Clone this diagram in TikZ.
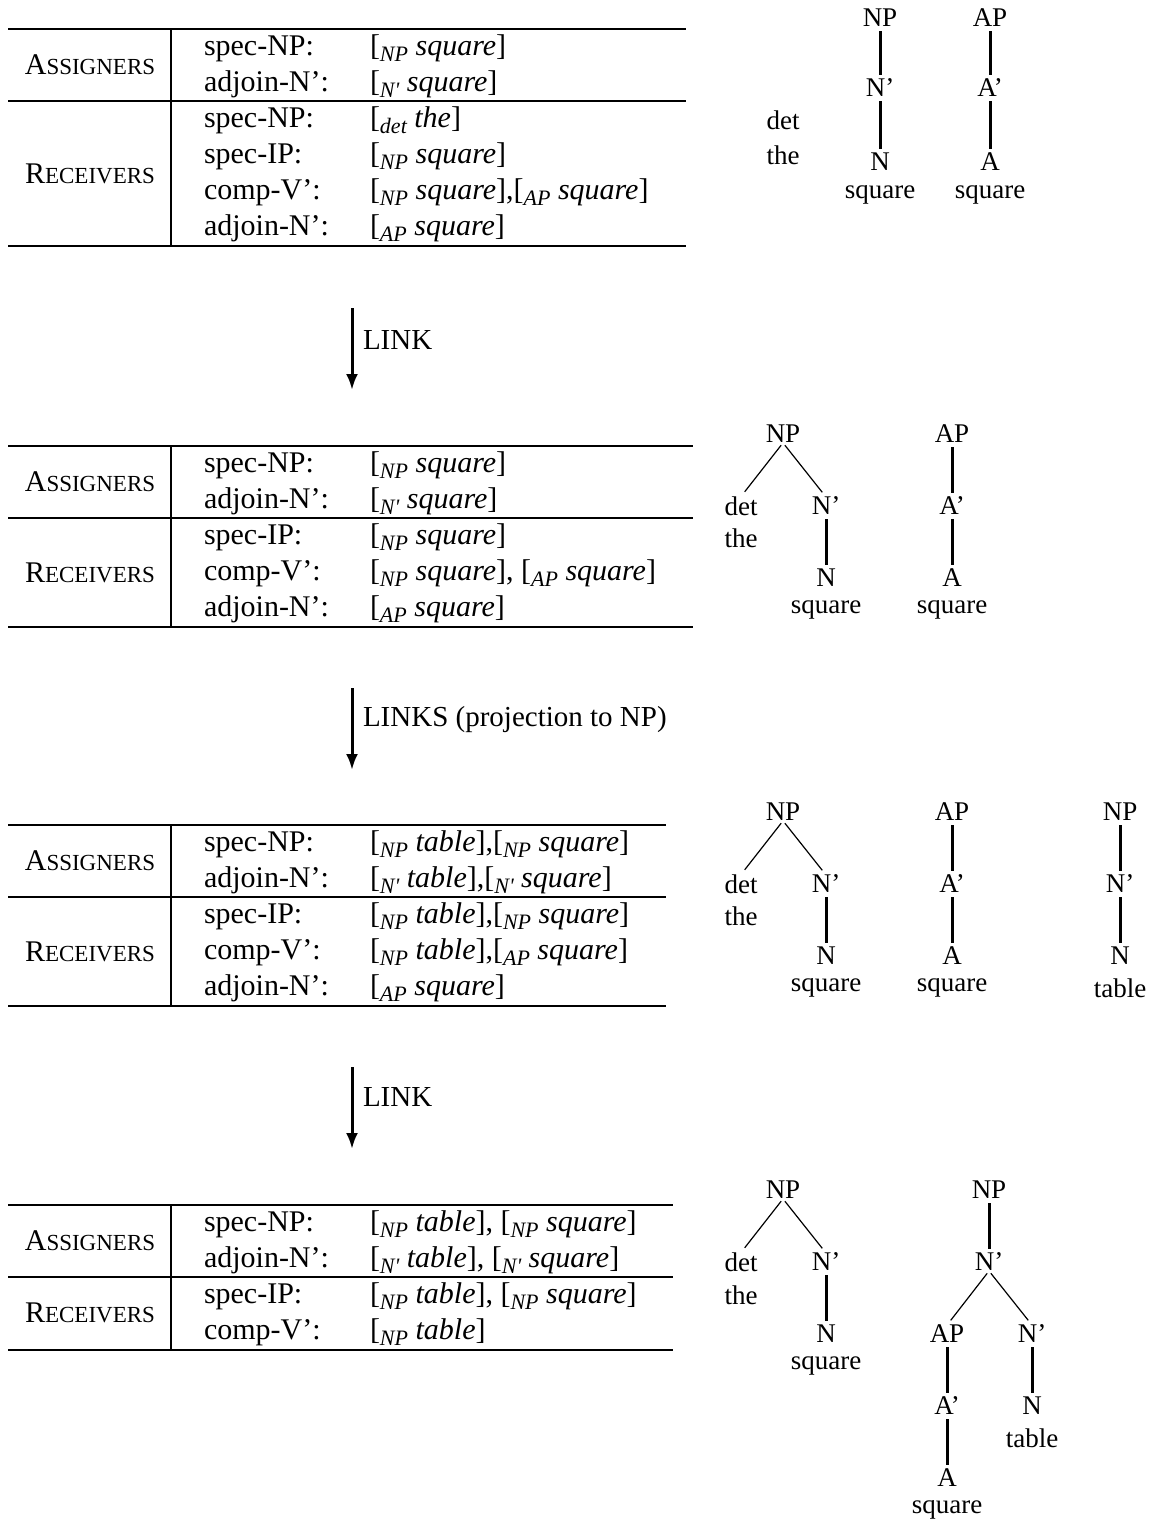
\documentclass[tikz,border=0pt]{standalone}
\usepackage{fontspec}
\setmainfont{Liberation Serif}
\usetikzlibrary{arrows.meta}
\newcommand\sbs[1]{\raisebox{-0.22em}{\fontsize{22}{22}\selectfont\itshape #1}}
\newcommand\smc[2]{#1{\fontsize{23}{23}\selectfont #2}}
\newcommand\nbr{N\textquotesingle}
\begin{document}
\begin{tikzpicture}[x=1pt,y=-1pt,
  every node/.style={font=\fontsize{30}{36}\selectfont, inner sep=0pt, outer sep=0pt},
  lab/.style={anchor=base west},
  cat/.style={anchor=center, font=\fontsize{27}{32}\selectfont},
  tlab/.style={anchor=center},
  arrlab/.style={anchor=west, font=\fontsize{29}{35}\selectfont},
  hrule/.style={line width=2.6pt},
  vrule/.style={line width=2pt},
  vl/.style={line width=3pt, shorten <=4.5pt, shorten >=4.5pt},
  dl/.style={line width=1.2pt, shorten <=3pt, shorten >=6pt},
  flow/.style={line width=3pt, -{Latex[length=16pt,width=12pt]}}]
\useasboundingbox (0,0) rectangle (1155,1523);

% ---------------- Table 1 ----------------
\draw[hrule] (8,29) -- (686,29);
\draw[hrule] (8,101) -- (686,101);
\draw[hrule] (8,246) -- (686,246);
\draw[vrule] (171,29) -- (171,246);
\node[tlab] (t1A) at (90,65) {\smc{A}{SSIGNERS}};
\node[tlab] (t1R) at (90,173.5) {\smc{R}{ECEIVERS}};
\node[lab] (t1a1) at (204,55) {spec-NP:};
\node[lab] (t1b1) at (370,55) {[\sbs{NP} \textit{square}]};
\node[lab] (t1a2) at (204,91) {adjoin-N':};
\node[lab] (t1b2) at (370,91) {[\sbs{\nbr} \textit{square}]};
\node[lab] (t1a3) at (204,127) {spec-NP:};
\node[lab] (t1b3) at (370,127) {[\sbs{det} \textit{the}]};
\node[lab] (t1a4) at (204,163) {spec-IP:};
\node[lab] (t1b4) at (370,163) {[\sbs{NP} \textit{square}]};
\node[lab] (t1a5) at (204,199) {comp-V':};
\node[lab] (t1b5) at (370,199) {[\sbs{NP} \textit{square}],[\sbs{AP} \textit{square}]};
\node[lab] (t1a6) at (204,235) {adjoin-N':};
\node[lab] (t1b6) at (370,235) {[\sbs{AP} \textit{square}]};

% ---------------- Table 2 ----------------
\draw[hrule] (8,446) -- (693,446);
\draw[hrule] (8,518) -- (693,518);
\draw[hrule] (8,627) -- (693,627);
\draw[vrule] (171,446) -- (171,627);
\node[tlab] (t2A) at (90,482) {\smc{A}{SSIGNERS}};
\node[tlab] (t2R) at (90,572.5) {\smc{R}{ECEIVERS}};
\node[lab] (t2a1) at (204,472) {spec-NP:};
\node[lab] (t2b1) at (370,472) {[\sbs{NP} \textit{square}]};
\node[lab] (t2a2) at (204,508) {adjoin-N':};
\node[lab] (t2b2) at (370,508) {[\sbs{\nbr} \textit{square}]};
\node[lab] (t2a3) at (204,544) {spec-IP:};
\node[lab] (t2b3) at (370,544) {[\sbs{NP} \textit{square}]};
\node[lab] (t2a4) at (204,580) {comp-V':};
\node[lab] (t2b4) at (370,580) {[\sbs{NP} \textit{square}], [\sbs{AP} \textit{square}]};
\node[lab] (t2a5) at (204,616) {adjoin-N':};
\node[lab] (t2b5) at (370,616) {[\sbs{AP} \textit{square}]};

% ---------------- Table 3 ----------------
\draw[hrule] (8,825) -- (666,825);
\draw[hrule] (8,897) -- (666,897);
\draw[hrule] (8,1006) -- (666,1006);
\draw[vrule] (171,825) -- (171,1006);
\node[tlab] (t3A) at (90,861) {\smc{A}{SSIGNERS}};
\node[tlab] (t3R) at (90,951.5) {\smc{R}{ECEIVERS}};
\node[lab] (t3a1) at (204,851) {spec-NP:};
\node[lab] (t3b1) at (370,851) {[\sbs{NP} \textit{table}],[\sbs{NP} \textit{square}]};
\node[lab] (t3a2) at (204,887) {adjoin-N':};
\node[lab] (t3b2) at (370,887) {[\sbs{\nbr} \textit{table}],[\sbs{\nbr} \textit{square}]};
\node[lab] (t3a3) at (204,923) {spec-IP:};
\node[lab] (t3b3) at (370,923) {[\sbs{NP} \textit{table}],[\sbs{NP} \textit{square}]};
\node[lab] (t3a4) at (204,959) {comp-V':};
\node[lab] (t3b4) at (370,959) {[\sbs{NP} \textit{table}],[\sbs{AP} \textit{square}]};
\node[lab] (t3a5) at (204,995) {adjoin-N':};
\node[lab] (t3b5) at (370,995) {[\sbs{AP} \textit{square}]};

% ---------------- Table 4 ----------------
\draw[hrule] (8,1205) -- (673,1205);
\draw[hrule] (8,1277) -- (673,1277);
\draw[hrule] (8,1350) -- (673,1350);
\draw[vrule] (171,1205) -- (171,1350);
\node[tlab] (t4A) at (90,1241) {\smc{A}{SSIGNERS}};
\node[tlab] (t4R) at (90,1313) {\smc{R}{ECEIVERS}};
\node[lab] (t4a1) at (204,1231) {spec-NP:};
\node[lab] (t4b1) at (370,1231) {[\sbs{NP} \textit{table}], [\sbs{NP} \textit{square}]};
\node[lab] (t4a2) at (204,1267) {adjoin-N':};
\node[lab] (t4b2) at (370,1267) {[\sbs{\nbr} \textit{table}], [\sbs{\nbr} \textit{square}]};
\node[lab] (t4a3) at (204,1303) {spec-IP:};
\node[lab] (t4b3) at (370,1303) {[\sbs{NP} \textit{table}], [\sbs{NP} \textit{square}]};
\node[lab] (t4a4) at (204,1339) {comp-V':};
\node[lab] (t4b4) at (370,1339) {[\sbs{NP} \textit{table}]};

% ---------------- Arrows ----------------
\coordinate (a1s) at (352,308); \coordinate (a1e) at (352,390);
\draw[flow] (a1s) -- (a1e);
\node[arrlab] (a1l) at (363,340) {LINK};
\coordinate (a2s) at (352,688); \coordinate (a2e) at (352,770);
\draw[flow] (a2s) -- (a2e);
\node[arrlab] (a2l) at (363,720) {LINKS (projection to NP)};
\coordinate (a3s) at (352,1067); \coordinate (a3e) at (352,1149);
\draw[flow] (a3s) -- (a3e);
\node[arrlab] (a3l) at (363,1097) {LINK};

% ---------------- Trees set 1 ----------------
\node[cat] (s1np) at (880,18) {NP};
\node[cat] (s1nb) at (880,88) {N'};
\node[cat] (s1n) at (880,162) {N};
\node[cat] (s1sq) at (880,195) {square};
\node[cat] (s1ap) at (990,18) {AP};
\node[cat] (s1ab) at (990,88) {A'};
\node[cat] (s1a) at (990,162) {A};
\node[cat] (s1asq) at (990,195) {square};
\node[cat] (s1det) at (783,120) {det};
\node[cat] (s1the) at (783,155) {the};
\draw[vl] (s1np) -- (s1nb);
\draw[vl] (s1nb) -- (s1n);
\draw[vl] (s1ap) -- (s1ab);
\draw[vl] (s1ab) -- (s1a);

% ---------------- Trees set 2 ----------------
\node[cat] (s2np) at (783,434) {NP};
\node[cat] (s2det) at (741,506) {det};
\node[cat] (s2the) at (741,538) {the};
\node[cat] (s2nb) at (826,506) {N'};
\node[cat] (s2n) at (826,578) {N};
\node[cat] (s2sq) at (826,610) {square};
\node[cat] (s2ap) at (952,434) {AP};
\node[cat] (s2ab) at (952,506) {A'};
\node[cat] (s2a) at (952,578) {A};
\node[cat] (s2asq) at (952,610) {square};
\draw[dl] (s2np.south) -- (s2det.north);
\draw[dl] (s2np.south) -- (s2nb.north);
\draw[vl] (s2nb) -- (s2n);
\draw[vl] (s2ap) -- (s2ab);
\draw[vl] (s2ab) -- (s2a);

% ---------------- Trees set 3 ----------------
\node[cat] (s3np) at (783,812) {NP};
\node[cat] (s3det) at (741,884) {det};
\node[cat] (s3the) at (741,916) {the};
\node[cat] (s3nb) at (826,884) {N'};
\node[cat] (s3n) at (826,956) {N};
\node[cat] (s3sq) at (826,988) {square};
\node[cat] (s3ap) at (952,812) {AP};
\node[cat] (s3ab) at (952,884) {A'};
\node[cat] (s3a) at (952,956) {A};
\node[cat] (s3asq) at (952,988) {square};
\node[cat] (s3np2) at (1120,812) {NP};
\node[cat] (s3nb2) at (1120,884) {N'};
\node[cat] (s3n2) at (1120,956) {N};
\node[cat] (s3tb) at (1120,988) {table};
\draw[dl] (s3np.south) -- (s3det.north);
\draw[dl] (s3np.south) -- (s3nb.north);
\draw[vl] (s3nb) -- (s3n);
\draw[vl] (s3ap) -- (s3ab);
\draw[vl] (s3ab) -- (s3a);
\draw[vl] (s3np2) -- (s3nb2);
\draw[vl] (s3nb2) -- (s3n2);

% ---------------- Trees set 4 ----------------
\node[cat] (s4np) at (783,1190) {NP};
\node[cat] (s4det) at (741,1262) {det};
\node[cat] (s4the) at (741,1295) {the};
\node[cat] (s4nb) at (826,1262) {N'};
\node[cat] (s4n) at (826,1334) {N};
\node[cat] (s4sq) at (826,1366) {square};
\node[cat] (s4np2) at (989,1190) {NP};
\node[cat] (s4nb2) at (989,1262) {N'};
\node[cat] (s4ap) at (947,1334) {AP};
\node[cat] (s4nb3) at (1032,1334) {N'};
\node[cat] (s4ab) at (947,1406) {A'};
\node[cat] (s4n2) at (1032,1406) {N};
\node[cat] (s4tb) at (1032,1438) {table};
\node[cat] (s4a) at (947,1478) {A};
\node[cat] (s4asq) at (947,1510) {square};
\draw[dl] (s4np.south) -- (s4det.north);
\draw[dl] (s4np.south) -- (s4nb.north);
\draw[vl] (s4nb) -- (s4n);
\draw[vl] (s4np2) -- (s4nb2);
\draw[dl] (s4nb2.south) -- (s4ap.north);
\draw[dl] (s4nb2.south) -- (s4nb3.north);
\draw[vl] (s4ap) -- (s4ab);
\draw[vl] (s4ab) -- (s4a);
\draw[vl] (s4nb3) -- (s4n2);
\end{tikzpicture}
\end{document}
